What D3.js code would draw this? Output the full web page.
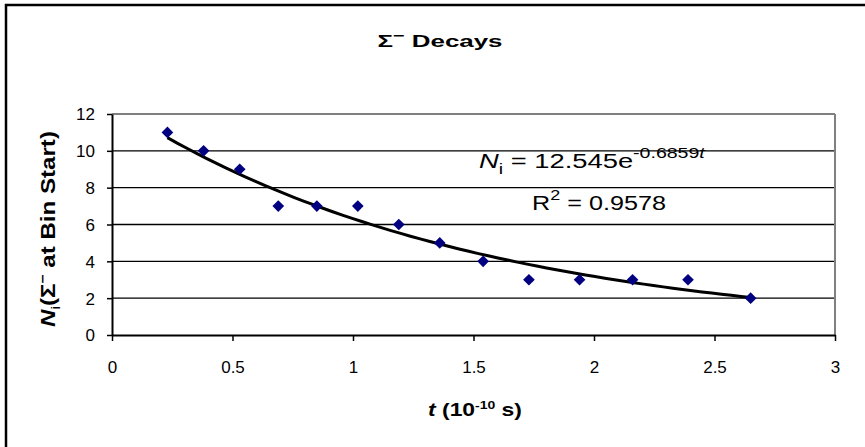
<!DOCTYPE html>
<html><head><meta charset="utf-8">
<script src="https://cdn.jsdelivr.net/npm/d3@7"></script>
<style>
html,body{margin:0;padding:0;background:#fff;}
svg{display:block;font-family:"Liberation Sans",Arial,sans-serif;}
</style></head>
<body><svg id="c" width="865" height="447"></svg>
<script>
// Data
const tValues = [0.23, 0.38, 0.53, 0.69, 0.85, 1.02, 1.19, 1.36, 1.54, 1.73, 1.94, 2.16, 2.39, 2.65];
const nValues = [11, 10, 9, 7, 7, 7, 6, 5, 4, 3, 3, 3, 3, 2];
const xTicks = [0, 0.5, 1, 1.5, 2, 2.5, 3];
const xTickLabels = ["0", "0.5", "1", "1.5", "2", "2.5", "3"];
const yTicks = [0, 2, 4, 6, 8, 10, 12];
const yTickLabels = ["0", "2", "4", "6", "8", "10", "12"];
const fitA = 12.545, fitB = -0.6859, fitR2 = "0.9578";

const svg = d3.select("#c");
const W = 865, H = 447;
const L = 112, R = 835, T = 114, B = 335;
const x = d3.scaleLinear().domain([0, 3]).range([L, R]);
const y = d3.scaleLinear().domain([0, 12]).range([B, T]);

// stretch a text element along its own direction to a target width
function fitWidth(sel, target, pre) {
  const w = sel.node().getBBox().width;
  const s = target / w;
  sel.attr("transform", `${pre} scale(${s},1)`);
}

// outer chart border (only top and left visible)
svg.append("path").attr("d", `M6,${H} L6,5 L${W},5`).attr("fill","none").attr("stroke","#000").attr("stroke-width",2.5);

// gridlines
const g = svg.append("g");
yTicks.filter(v => v > 0).forEach(v => {
  g.append("line").attr("x1", L).attr("x2", R).attr("y1", y(v)).attr("y2", y(v))
    .attr("stroke", v === 12 ? "#808080" : "#000").attr("stroke-width", v === 12 ? 2.2 : 1.4);
});
g.append("line").attr("x1", R).attr("x2", R).attr("y1", T).attr("y2", B).attr("stroke", "#808080").attr("stroke-width", 2);

// axes
const xAxis = d3.axisBottom(x).tickValues(xTicks).tickFormat((d,i) => xTickLabels[i]).tickSize(6).tickSizeOuter(0);
const yAxis = d3.axisLeft(y).tickValues(yTicks).tickFormat((d,i) => yTickLabels[i]).tickSize(5).tickSizeOuter(0);
const gx = svg.append("g").attr("transform", `translate(0,${B})`).call(xAxis);
const gy = svg.append("g").attr("transform", `translate(${L},0)`).call(yAxis);
[gx, gy].forEach(a => {
  a.select(".domain").attr("stroke", "#000").attr("stroke-width", 2);
  a.selectAll(".tick line").attr("stroke", "#000").attr("stroke-width", 1.5);
  a.selectAll(".tick text").attr("fill", "#000").style("font-size", "17px").style("font-family", "Liberation Sans, Arial, sans-serif");
});
gx.selectAll(".tick text").attr("dy", null).attr("y", 38);
gy.selectAll(".tick text").attr("x", -17).attr("dy", "0.35em");

// trendline from displayed fit
const t0 = tValues[0], t1 = tValues[tValues.length - 1];
const trend = d3.range(0, 61).map(i => t0 + (t1 - t0) * i / 60).map(t => [t, fitA * Math.exp(fitB * t)]);
svg.append("path").datum(trend)
  .attr("d", d3.line().x(d => x(d[0])).y(d => y(d[1])))
  .attr("fill", "none").attr("stroke", "#000").attr("stroke-width", 3);

// markers
const diamond = d3.symbol().type(d3.symbolSquare).size(68);
svg.append("g").selectAll("path").data(tValues).join("path")
  .attr("d", diamond)
  .attr("transform", (d, i) => `translate(${x(d)},${y(nValues[i])}) rotate(45)`)
  .attr("fill", "#000080");

// title
const title = svg.append("text").attr("text-anchor", "middle")
  .style("font-size", "17px").style("font-weight", "bold");
title.append("tspan").text("Σ");
title.append("tspan").attr("dy", -7).style("font-size", "13px").text("−");
title.append("tspan").attr("dy", 7).text(" Decays");
fitWidth(title, 125, "translate(440,47)");

// x axis title
const xt = svg.append("text").attr("text-anchor", "middle")
  .style("font-size", "18px").style("font-weight", "bold");
xt.append("tspan").style("font-style", "italic").text("t");
xt.append("tspan").text(" (10");
xt.append("tspan").attr("dy", -7).style("font-size", "11px").text("-10");
xt.append("tspan").attr("dy", 7).text(" s)");
fitWidth(xt, 94, "translate(475,416)");

// y axis title
const yt = svg.append("text").attr("text-anchor", "middle")
  .style("font-size", "20px").style("font-weight", "bold");
yt.append("tspan").style("font-style", "italic").text("N");
yt.append("tspan").attr("dy", 5).style("font-size", "13px").style("font-weight", "normal").text("i");
yt.append("tspan").attr("dy", -5).text("(Σ");
yt.append("tspan").attr("dy", -8).style("font-size", "13px").text("−");
yt.append("tspan").attr("dy", 8).text(" at Bin Start)");
fitWidth(yt, 196, "translate(55,229) rotate(-90)");

// equation
const eq = svg.append("text").style("font-size", "21px");
eq.append("tspan").style("font-style", "italic").text("N");
eq.append("tspan").attr("dy", 6).style("font-size", "15px").text("i");
eq.append("tspan").attr("dy", -6).text(" = " + fitA + "e");
eq.append("tspan").attr("dy", -10).style("font-size", "15px").text(String(fitB));
eq.append("tspan").style("font-size", "15px").style("font-style", "italic").text("t");
fitWidth(eq, 227, "translate(479,168)");

const r2 = svg.append("text").style("font-size", "21px");
r2.append("tspan").text("R");
r2.append("tspan").attr("dy", -10).style("font-size", "15px").text("2");
r2.append("tspan").attr("dy", 10).text(" = " + fitR2);
fitWidth(r2, 134, "translate(532,210)");
</script></body></html>
